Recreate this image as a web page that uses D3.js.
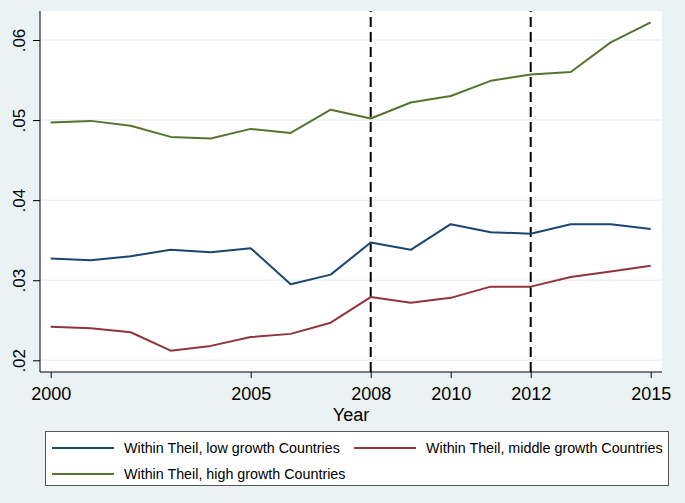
<!DOCTYPE html>
<html>
<head>
<meta charset="utf-8">
<script src="https://cdn.jsdelivr.net/npm/d3@7"></script>
<style>
  html, body { margin: 0; padding: 0; background: #eaf2f3; }
  svg { display: block; font-family: "Liberation Sans", Arial, sans-serif; }
</style>
</head>
<body>
<svg id="chart" width="685" height="503"></svg>
<script>
const years = [2000,2001,2002,2003,2004,2005,2006,2007,2008,2009,2010,2011,2012,2013,2014,2015];
const lowGrowth    = [0.0327,0.0325,0.0330,0.0338,0.0335,0.0340,0.0295,0.0307,0.0347,0.0338,0.0370,0.0360,0.0358,0.0370,0.0370,0.0364];
const middleGrowth = [0.0242,0.0240,0.0235,0.0212,0.0218,0.0229,0.0233,0.0247,0.0279,0.0272,0.0278,0.0292,0.0292,0.0304,0.0311,0.0318];
const highGrowth   = [0.0497,0.0499,0.0493,0.0479,0.0477,0.0489,0.0484,0.0513,0.0502,0.0522,0.0530,0.0549,0.0557,0.0560,0.0597,0.0622];
const seriesNames = ["Within Theil, low growth Countries","Within Theil, middle growth Countries","Within Theil, high growth Countries"];
const seriesColors = ["#1a476f","#90353b","#55752f"];
const yTicks = [0.02,0.03,0.04,0.05,0.06];
const yTickLabels = [".02",".03",".04",".05",".06"];
const xTicks = [2000,2005,2008,2010,2012,2015];
const refYears = [2008,2012];
const xTitle = "Year";

const svg = d3.select("#chart");
const W = 685, H = 503;
const plot = {left: 40, right: 662, top: 11, bottom: 372};

svg.append("rect").attr("x",0).attr("y",0).attr("width",W).attr("height",H).attr("fill","#eaf2f3");
svg.append("rect").attr("x",plot.left).attr("y",plot.top)
  .attr("width",plot.right-plot.left).attr("height",plot.bottom-plot.top).attr("fill","#ffffff");

const x = d3.scaleLinear().domain([2000,2015]).range([50.7,650.7]);
const y = d3.scaleLinear().domain([0.02,0.06]).range([360.3,40]);

// gridlines
svg.append("g").selectAll("line").data(yTicks).join("line")
  .attr("x1",plot.left).attr("x2",plot.right)
  .attr("y1",d=>y(d)).attr("y2",d=>y(d))
  .attr("stroke","#eaf2f3").attr("stroke-width",1.5);

// reference dashed lines
svg.append("g").selectAll("line").data(refYears).join("line")
  .attr("x1",d=>x(d)).attr("x2",d=>x(d))
  .attr("y1",plot.top).attr("y2",plot.bottom)
  .attr("stroke","#000").attr("stroke-width",2)
  .attr("stroke-dasharray","10,5").attr("stroke-dashoffset",9);

// series
const allSeries = [lowGrowth, middleGrowth, highGrowth];
const line = d3.line().x((d,i)=>x(years[i])).y(d=>y(d));
svg.append("g").selectAll("path").data(allSeries).join("path")
  .attr("d",d=>line(d)).attr("fill","none")
  .attr("stroke",(d,i)=>seriesColors[i]).attr("stroke-width",2)
  .attr("stroke-linejoin","round");

// y axis
const yAxis = d3.axisLeft(y).tickValues(yTicks).tickSize(7)
  .tickFormat((d,i)=>yTickLabels[i]);
const gy = svg.append("g").attr("transform",`translate(${plot.left},0)`).call(yAxis);
gy.select(".domain").attr("d",`M0,${plot.top}V${plot.bottom}`).attr("stroke","#000");
gy.selectAll(".tick line").attr("stroke","#000");
gy.selectAll(".tick text")
  .attr("transform","rotate(-90)")
  .attr("x",0).attr("y",-15).attr("dy",0)
  .attr("text-anchor","middle")
  .attr("font-size","17px").attr("font-family","Liberation Sans, Arial, sans-serif")
  .attr("fill","#000");

// x axis
const xAxis = d3.axisBottom(x).tickValues(xTicks).tickSize(6).tickFormat(d3.format("d"));
const gx = svg.append("g").attr("transform",`translate(0,${plot.bottom})`).call(xAxis);
gx.select(".domain").attr("d",`M${plot.left},0H${plot.right}`).attr("stroke","#000");
gx.selectAll(".tick line").attr("stroke","#000");
gx.selectAll(".tick text")
  .attr("y",28).attr("dy",0)
  .attr("font-size","18px").attr("font-family","Liberation Sans, Arial, sans-serif")
  .attr("fill","#000");

// x title
svg.append("text").attr("x",(plot.left+plot.right)/2).attr("y",421)
  .attr("text-anchor","middle").attr("font-size","18px").attr("fill","#000")
  .text(xTitle);

// legend
const lg = svg.append("g");
lg.append("rect").attr("x",45.5).attr("y",431.5).attr("width",623).attr("height",54)
  .attr("fill","#fff").attr("stroke","#555").attr("stroke-width",1);
const legPos = [{lx:52, tx:124, cy:448}, {lx:354, tx:426, cy:448}, {lx:52, tx:124, cy:474}];
legPos.forEach((p,i)=>{
  lg.append("line").attr("x1",p.lx).attr("x2",p.lx+62).attr("y1",p.cy).attr("y2",p.cy)
    .attr("stroke",seriesColors[i]).attr("stroke-width",2);
  lg.append("text").attr("x",p.tx).attr("y",p.cy+5).attr("font-size","14.3px")
    .attr("fill","#000").text(seriesNames[i]);
});
</script>
</body>
</html>
